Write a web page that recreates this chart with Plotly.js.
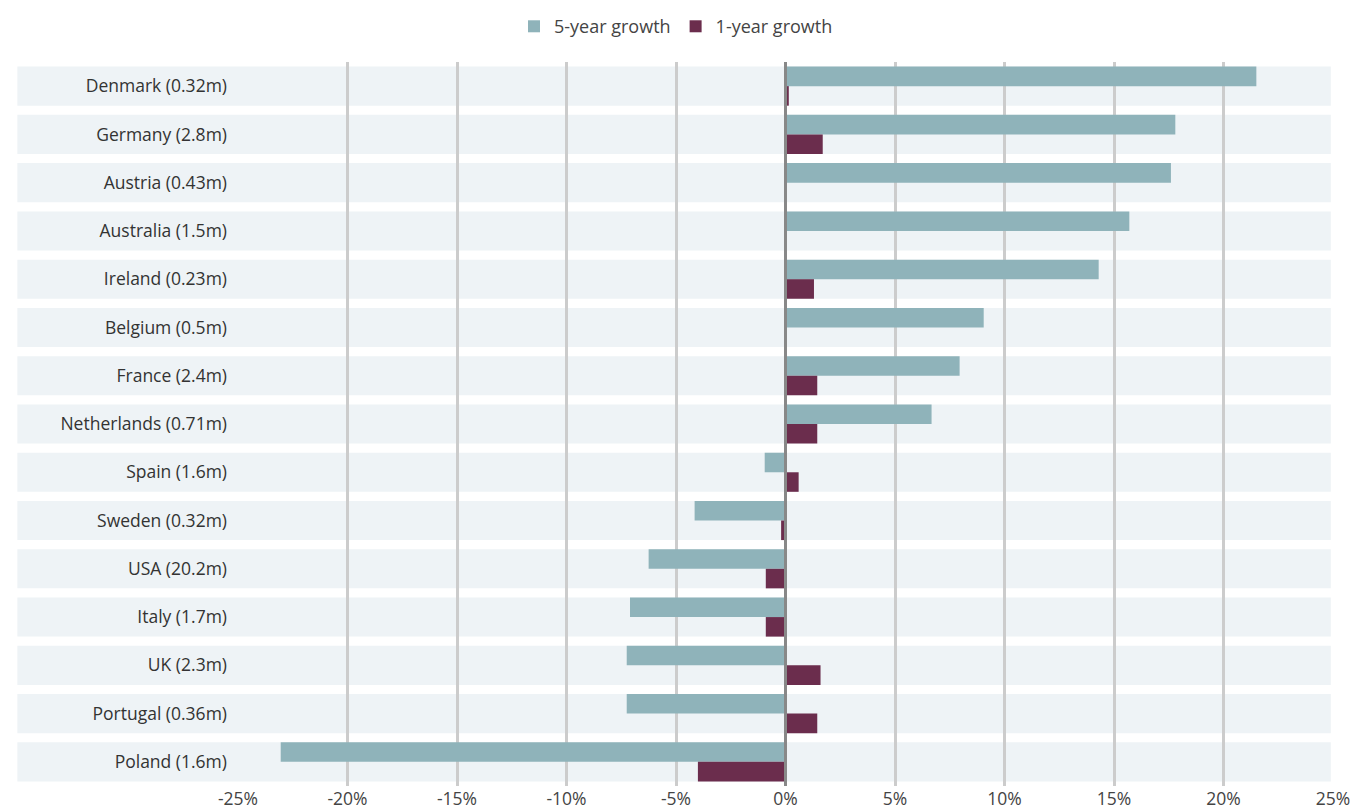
<!DOCTYPE html>
<html>
<head>
<meta charset="utf-8">
<script src="https://cdn.plot.ly/plotly-3.0.1.min.js"></script>
<style>html,body{margin:0;padding:0;background:#fff;}#chart{width:1352px;height:809px;}</style>
</head>
<body>
<div id="chart"></div>
<script>
var categories = ["Denmark (0.32m)", "Germany (2.8m)", "Austria (0.43m)", "Australia (1.5m)", "Ireland (0.23m)", "Belgium (0.5m)", "France (2.4m)", "Netherlands (0.71m)", "Spain (1.6m)", "Sweden (0.32m)", "USA (20.2m)", "Italy (1.7m)", "UK (2.3m)", "Portugal (0.36m)", "Poland (1.6m)"];
var growth5yr = [21.5, 17.8, 17.6, 15.7, 14.3, 9.05, 7.95, 6.67, -0.95, -4.15, -6.25, -7.1, -7.25, -7.25, -23.05];
var growth1yr = [0.15, 1.7, 0, 0, 1.3, 0, 1.45, 1.45, 0.6, -0.2, -0.9, -0.9, 1.6, 1.45, -4.0];
var tickVals = [-25, -20, -15, -10, -5, 0, 5, 10, 15, 20, 25];
var tickText = ["-25%", "-20%", "-15%", "-10%", "-5%", "0%", "5%", "10%", "15%", "20%", "25%"];

var FONT = "'Open Sans', 'Noto Sans', sans-serif";

var traces = [
  {type: "bar", orientation: "h", name: "5-year growth", y: categories, x: growth5yr,
   marker: {color: "#8fb3ba", line: {width: 0}}, hoverinfo: "x+y"},
  {type: "bar", orientation: "h", name: "1-year growth", y: categories, x: growth1yr,
   marker: {color: "#6b2d4d", line: {width: 0}}, hoverinfo: "x+y"}
];

var shapes = categories.map(function (c, i) {
  return {type: "rect", layer: "below", xref: "paper", yref: "y",
          x0: -0.2015, x1: 0.998, y0: i - 0.405, y1: i + 0.405,
          fillcolor: "#eef3f6", line: {width: 0}};
});
shapes.push({type: "line", layer: "above", xref: "x", yref: "paper",
             x0: 0, x1: 0, y0: 0, y1: 1, line: {color: "#888888", width: 3}});

var layout = {
  width: 1352, height: 809,
  margin: {l: 238, r: 19, t: 62, b: 23},
  paper_bgcolor: "#ffffff",
  plot_bgcolor: "rgba(0,0,0,0)",
  font: {family: FONT, size: 17, color: "#444444"},
  barmode: "group",
  bargap: 0.19,
  bargroupgap: 0,
  showlegend: true,
  legend: {orientation: "h", xref: "container", yref: "container", x: 0.5, xanchor: "center",
           y: 0.99, yanchor: "top", font: {family: FONT, size: 18, color: "#444444"},
           traceorder: "normal", itemwidth: 30},
  xaxis: {range: [-25, 25], tickvals: tickVals, ticktext: tickText, showgrid: true,
          gridcolor: "#cccccc", gridwidth: 3, zeroline: false, showline: false,
          ticks: "", fixedrange: true, tickfont: {family: FONT, size: 17.5, color: "#444444"}},
  yaxis: {type: "category", autorange: "reversed", showgrid: false, zeroline: false,
          showline: false, ticks: "", ticklabelstandoff: 10,
          tickfont: {family: FONT, size: 17.5, color: "#333333"}},
  shapes: shapes
};

Plotly.newPlot("chart", traces, layout, {displayModeBar: false, staticPlot: true});
</script>
</body>
</html>
